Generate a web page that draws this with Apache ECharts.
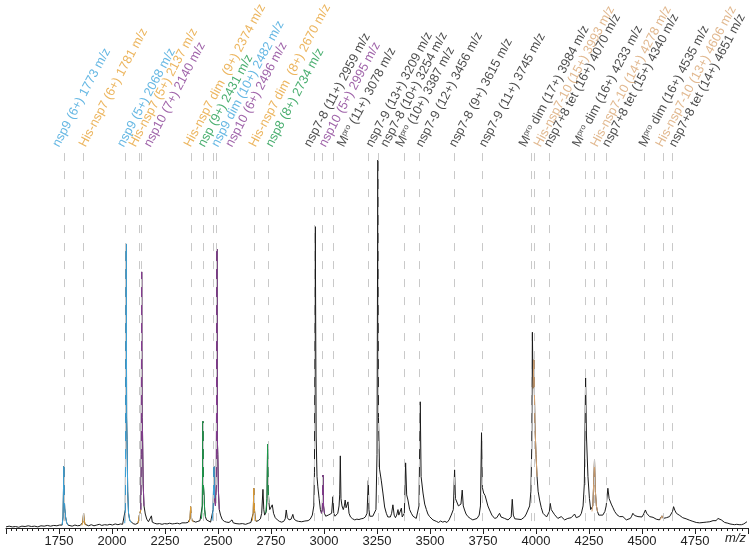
<!DOCTYPE html>
<html><head><meta charset="utf-8">
<script src="https://cdn.jsdelivr.net/npm/echarts@6/dist/echarts.min.js"></script>
<style>html,body{margin:0;padding:0;background:#fff}#c{width:750px;height:549px}</style>
</head><body><div id="c"></div>
<script>
// ---- data ----
const xTickLabels = [1750,2000,2250,2500,2750,3000,3250,3500,3750,4000,4250,4500,4750];

const spectrum = [
[1500,0.3],[1515,0.5],[1530,0.3],[1545,0.4],[1560,0.2],[1575,0.5],[1590,0.4],[1605,0.6],[1620,0.4],[1635,0.5],[1650,0.3],[1665,0.6],[1680,0.5],[1695,0.7],[1710,0.5],[1725,0.7],[1740,0.6],[1752,0.8],[1760,0.7],[1765,0.8],
[1769,3],[1773,16.8],[1775,8],[1777,5.4],[1781,3],[1786,1.5],[1792,0.8],
[1800,0.7],[1812,0.5],[1825,0.8],[1838,0.6],[1850,0.7],[1858,0.7],[1862,1.5],[1866,4.0],[1869,2],[1873,1.0],[1878,0.7],
[1890,0.6],[1902,0.9],[1915,0.6],[1928,0.8],[1940,1.0],[1952,0.7],[1965,0.9],[1978,0.8],[1990,1.0],[2002,0.8],[2015,1.1],[2028,0.9],[2040,1.1],[2050,1.0],[2058,1.2],
[2060,1.3],[2063,5],[2067,77.2],[2069,30],[2071,24],[2074,10],[2078,4],[2084,2],[2090,1.5],
[2100,1.2],[2110,1.0],[2118,1.2],[2122,1.3],[2125,2],[2129,3.5],[2133,3],[2136,5],[2138,20],[2140,69.6],[2142,30],[2144,26],[2147,12],[2151,6],[2157,3.8],[2164,2.4],[2172,1.7],[2180,1.6],[2186,3.3],[2190,1.6],[2200,1.3],[2212,1.1],[2224,1.2],[2236,1.0],[2248,1.2],[2260,1.1],[2272,1.3],[2284,1.1],[2296,1.2],[2308,1.3],[2320,1.1],[2330,1.4],[2336,1.3],[2348,1.4],[2358,1.5],
[2364,1.6],[2368,2.5],[2371,5.8],[2374,3],[2378,2],[2384,1.7],
[2395,1.6],[2405,1.8],[2415,2.0],[2422,2.5],[2426,6],[2429,29],[2431,12],[2434,9],[2437,5],[2441,3],[2446,2.2],[2455,1.7],[2465,1.6],[2472,2],[2477,5],[2481,16.7],[2484,8],[2488,6],[2492,12],[2495,75.8],[2497,24],[2499,20],[2502,10],[2506,5],[2512,3.5],[2520,2.3],[2530,1.8],[2540,1.6],[2552,1.5],[2560,1.7],[2566,2.2],[2572,1.4],[2585,1.2],[2600,1.1],[2615,1.2],[2630,1.0],[2645,1.3],[2655,1.5],[2662,2],[2666,4],[2669,10.8],[2672,5],[2676,2.5],[2680,1.8],
[2690,2],[2700,2.5],[2706,4],[2712,10.5],[2716,5],[2720,3.5],[2725,4],[2728,4.5],[2731,8],[2734,22.8],[2737,10],[2740,7],[2744,5],[2750,5.5],[2756,6.3],[2762,4],[2770,2.8],[2780,2.2],[2790,1.8],[2800,1.6],[2810,1.8],[2817,2.5],[2822,4.9],[2827,2.8],[2835,2.2],[2845,2.4],[2853,3.7],[2858,2.5],[2868,2.0],[2880,1.8],[2895,1.7],[2910,1.9],[2925,2.0],[2935,2.4],[2945,3.5],[2952,6],[2955,15],[2959,81.9],[2963,25],[2967,14],[2971,11.2],[2977,8],[2983,5],[2988,4],[2992,5],[2995,14.4],[2998,6],[3002,4],[3008,3.2],[3014,3],[3020,3.5],[3028,3.2],[3036,4],[3042,8.5],[3046,4],[3052,3.2],[3058,3.1],[3065,4],[3071,6],[3074,9],[3077,19.6],[3080,8],[3085,6],[3091,5],[3096,6],[3100,7.6],[3104,5.5],[3108,5],[3113,7.1],[3118,4],[3125,3],[3135,2.5],[3145,2.2],[3155,2.4],[3165,2.3],[3175,2.5],[3185,2.6],[3195,3],[3203,4],[3209,12.9],[3212,5],[3216,3.2],[3222,3],[3230,3.2],[3238,3.5],[3245,5],[3250,20],[3254,100],[3257,30],[3262,16],[3270,13],[3278,9.5],[3286,5.7],[3294,4],[3301,3.0],[3308,3.4],[3313,3.0],[3319,4],[3325,6.3],[3331,3.5],[3337,2.8],[3343,3.5],[3349,5],[3353,3.5],[3357,3.2],[3361,4],[3365,5.4],[3369,3],[3373,2.5],[3379,4],[3385,17.7],[3390,9],[3396,7.6],[3404,5],[3412,4],[3420,3.2],[3427,3.5],[3435,2.6],[3442,3],[3448,6],[3454,34.3],[3458,14],[3467,9.5],[3475,6.5],[3483,5],[3490,3.8],[3498,3.1],[3506,2.6],[3514,2.2],[3522,1.9],[3530,1.8],[3540,1.5],[3550,1.9],[3560,1.6],[3570,1.8],[3580,1.5],[3590,2.2],[3600,3.5],[3606,3],[3610,5],[3616,15.8],[3620,8],[3624,7.6],[3629,7.8],[3634,6],[3640,5.8],[3646,6.5],[3652,10.3],[3657,6],[3663,4.9],[3670,3.8],[3679,3.1],[3690,2.6],[3702,2.2],[3712,2.4],[3722,2.6],[3732,3.5],[3738,6],[3743,25.9],[3747,11],[3753,9.5],[3760,8.8],[3766,8.5],[3773,6],[3781,4.9],[3792,3.5],[3805,2.6],[3815,2.8],[3822,3.3],[3828,4],[3835,3],[3844,2.5],[3852,2.6],[3860,2.3],[3868,2.2],[3876,2.5],[3883,3],[3888,7.8],[3893,3.5],[3900,2.5],[3907,2.2],[3915,2.4],[3922,2.8],[3930,2.3],[3938,2.6],[3946,3],[3954,3.8],[3962,4.9],[3970,6],[3976,10],[3980,22],[3983,53.2],[3986,38],[3990,45.7],[3995,28],[4000,20],[4005,14],[4010,10],[4017,7.6],[4025,5.5],[4033,4],[4040,3.5],[4050,3],[4058,3.5],[4063,4.5],[4067,6.7],[4072,5],[4080,4.9],[4088,3.6],[4096,3.1],[4103,2.6],[4111,2.8],[4119,3.1],[4127,2.7],[4135,2.2],[4142,2.5],[4150,2.6],[4158,2.3],[4166,2.8],[4174,3.1],[4182,3.8],[4190,2.8],[4198,2.6],[4206,3.2],[4214,4],[4222,6],[4228,12],[4234,40.8],[4238,25],[4245,14],[4252,8],[4258,5],[4264,4.5],[4268,6],[4272,12],[4276,18.5],[4280,10],[4285,6],[4290,4.5],[4296,3.5],[4305,3.2],[4315,3.5],[4325,4.5],[4331,6],[4339,10.8],[4345,8],[4355,6.5],[4363,5.5],[4371,4.5],[4382,3.6],[4394,3.1],[4402,2.8],[4410,3.1],[4418,2.6],[4426,2.2],[4435,2.3],[4445,2.6],[4451,3.2],[4457,4],[4465,3.4],[4473,3],[4481,3.1],[4490,2.8],[4500,3],[4508,3.8],[4516,4.9],[4522,4],[4528,3.5],[4536,3.1],[4545,2.8],[4552,2.9],[4559,2.6],[4567,2.4],[4575,2.2],[4582,2.2],[4587,2.3],[4594,3.3],[4600,2.6],[4607,2.6],[4615,2.8],[4622,2.7],[4630,3.1],[4638,3.5],[4644,4.5],[4649,5.8],[4655,4.8],[4662,4],[4670,3.6],[4678,3.4],[4685,3.1],[4692,2.8],[4700,2.7],[4708,2.5],[4717,2.4],[4725,2.1],[4732,1.9],[4740,1.8],[4748,1.7],[4756,1.5],[4764,1.6],[4772,1.4],[4780,1.3],[4788,1.5],[4796,1.4],[4804,1.6],[4811,1.5],[4820,1.7],[4828,1.6],[4835,2],[4842,2.2],[4850,2.0],[4858,2.6],[4866,2.4],[4874,2.2],[4882,1.8],[4890,1.5],[4898,1.4],[4905,1.3],[4915,1.1],[4925,1.0],[4937,0.9],[4947,1.0],[4958,0.9],[4969,0.9],[4980,1.1],[4988,1.4],[4995,1.7]
];

const nsp9Peaks = [
 [[1765,0.8],[1769,3],[1773,16.8],[1775,8],[1777,5.4],[1781,3],[1786,1.5],[1792,0.8]],
 [[2060,1.3],[2063,5],[2067,77.2],[2069,30],[2071,24],[2074,10],[2078,4],[2084,2],[2090,1.5]],
 [[2472,2],[2477,5],[2481,16.7],[2484,8]]
];
const hisNsp7Peaks = [
 [[1858,0.7],[1862,1.5],[1866,4.0],[1869,2],[1873,1.0],[1878,0.7]],
 [[2122,1.3],[2125,2],[2129,3.5],[2133,3],[2136,5]],
 [[2364,1.6],[2368,2.5],[2371,5.8],[2374,3],[2378,2],[2384,1.7]],
 [[2662,2],[2666,4],[2669,10.8],[2672,5],[2676,2.5],[2680,1.8]]
];
const nsp10Peaks = [
 [[2136,5],[2138,20],[2140,69.6],[2142,30],[2144,26],[2147,12],[2151,6]],
 [[2484,8],[2488,6],[2492,12],[2495,75.8],[2497,24],[2499,20],[2502,10],[2506,5]],
 [[2988,4],[2992,5],[2995,14.4],[2998,6],[3002,4]]
];
const nsp8Peaks = [
 [[2422,2.5],[2426,6],[2429,29],[2431,12],[2434,9],[2437,5],[2441,3]],
 [[2725,4],[2728,4.5],[2731,8],[2734,22.8],[2737,10],[2740,7]]
];
const hisNsp710Peaks = [
 [[3986,38],[3990,45.7],[3995,28],[4000,20],[4005,14]],
 [[4264,4.5],[4268,6],[4272,12],[4276,18.5],[4280,10],[4285,6],[4290,4.5]],
 [[4587,2.3],[4594,3.3],[4600,2.6]]
];

// m/z of each dashed marker line, and m/z where its label starts
const labelMz = [1776,1863,2064,2127,2140,2374,2429,2476,2492,2673,2735,2956,2992,3042,3210,3254,3380,3451,3616,3745,3978,3993,4064,4234,4276,4332,4512,4599,4643];
const labelStartMz = [1735,1860,2041,2096,2167,2356,2422,2485,2552,2662,2741,2922,2992,3079,3213,3283,3354,3449,3606,3747,3936,4007,4054,4188,4274,4329,4502,4581,4643];
const labelText = [
 'nsp9 (6+) 1773 m/z','His-nsp7 (6+) 1781 m/z','nsp9 (5+) 2068 m/z','His-nsp7 (5+) 2137 m/z','nsp10 (7+) 2140 m/z',
 'His-nsp7 dim  (9+) 2374 m/z','nsp (9+) 2431 m/z','nsp9 dim (10+) 2482 m/z','nsp10 (6+) 2496 m/z','His-nsp7 dim  (8+) 2670 m/z',
 'nsp8 (8+) 2734 m/z','nsp7-8 (11+) 2959 m/z','nsp10 (5+) 2995 m/z','Mpro (11+) 3078 m/z','nsp7-9 (13+) 3209 m/z',
 'nsp7-8 (10+) 3254 m/z','Mpro (10+) 3387 m/z','nsp7-9 (12+) 3456 m/z','nsp7-8 (9+) 3615 m/z','nsp7-9 (11+) 3745 m/z',
 'Mpro dim (17+) 3984 m/z','His-nsp7-10 (15+) 3993 m/z','nsp7+8 tet (16+) 4070 m/z','Mpro dim (16+) 4233 m/z','His-nsp7-10 (14+) 4278 m/z',
 'nsp7+8 tet (15+) 4340 m/z','Mpro dim (16+) 4535 m/z','His-nsp7-10 (13+) 4606 m/z','nsp7+8 tet (14+) 4651 m/z'
];
const labelGroup = ['nsp9','hisNsp7','nsp9','hisNsp7','nsp10','hisNsp7','nsp8','nsp9','nsp10','hisNsp7','nsp8','other','nsp10','other','other','other','other','other','other','other','other','hisNsp710','other','other','hisNsp710','other','other','hisNsp710','other'];

// ---- styles ----
const COLORS = {nsp9:'#3ea5dc', hisNsp7:'#e7a236', nsp10:'#873c93', nsp8:'#1c9a4b', hisNsp710:'#d9a673', other:'#1a1a1a'};
const FONT = '"Liberation Sans", Arial, Helvetica, sans-serif';
const LINE_TOP = 101.9, LABEL_Y = 103.8, Y_MAX = 143.5, LABEL_SIZE = 12.7;

const chart = echarts.init(document.getElementById('c'), null, {renderer:'canvas'});

function labelItem(i){
  const c = COLORS[labelGroup[i]];
  const t = labelText[i];
  const fmt = t.indexOf('Mpro') === 0 ? '{t|M}{s|pro}{t|' + t.slice(4) + '}' : '{t|' + t + '}';
  return {
    value:[labelStartMz[i], LABEL_Y],
    label:{formatter:()=>fmt, rich:{
      t:{color:c, fontSize:LABEL_SIZE, fontFamily:FONT},
      s:{color:c, fontSize:8, fontFamily:FONT, verticalAlign:'top'}
    }}
  };
}

const series = [];
series.push({
  type:'line', data:[[1500,0]], symbol:'none', lineStyle:{opacity:0}, z:1, silent:true,
  markLine:{symbol:'none', silent:true, animation:false, label:{show:false},
    lineStyle:{type:[8,10], color:'#c9c9c9', width:1},
    data: labelMz.map(m=>[{coord:[m, LINE_TOP]},{coord:[m, 0]}])}
});
series.push({type:'line', data:spectrum, symbol:'none', z:3, lineStyle:{color:'#1a1a1a', width:1}, silent:true});
const groups = [[nsp9Peaks,'nsp9'],[hisNsp7Peaks,'hisNsp7'],[nsp10Peaks,'nsp10'],[nsp8Peaks,'nsp8'],[hisNsp710Peaks,'hisNsp710']];
groups.forEach(([segs,key])=>segs.forEach(seg=>series.push({
  type:'line', data:seg, symbol:'none', z:4, silent:true, lineStyle:{color:COLORS[key], width:1}
})));
series.push({
  type:'scatter', z:5, symbol:'circle', symbolSize:0, itemStyle:{color:'transparent'}, silent:true, clip:false,
  label:{show:true, position:[0,0], align:'left', verticalAlign:'middle', rotate:62},
  data: labelText.map((t,i)=>labelItem(i))
});

chart.setOption({
  animation:false,
  backgroundColor:'#fff',
  grid:{left:6, right:2, top:0, bottom:21, containLabel:false, outerBoundsMode:'none'},
  xAxis:{type:'value', min:1500, max:5000, interval:250,
    axisLine:{show:true, onZero:false, lineStyle:{color:'#222', width:1}},
    axisTick:{show:true, length:6, lineStyle:{color:'#222'}},
    minorTick:{show:true, splitNumber:10, length:3, lineStyle:{color:'#222'}},
    splitLine:{show:false},
    axisLabel:{fontSize:13, color:'#222', fontFamily:FONT, margin:7,
      formatter:v=> xTickLabels.indexOf(v) >= 0 ? String(v) : ''}
  },
  yAxis:{type:'value', min:0, max:Y_MAX, show:false},
  graphic:[{type:'text', right:4, top:532, style:{text:'m/z', fontStyle:'italic', fontSize:13, fontFamily:FONT, fill:'#222'}}],
  series: series
});
</script></body></html>
